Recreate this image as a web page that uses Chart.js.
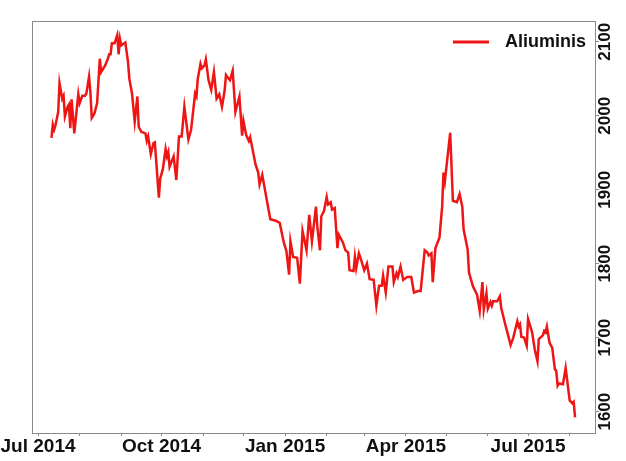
<!DOCTYPE html>
<html>
<head>
<meta charset="utf-8">
<script src="https://cdn.jsdelivr.net/npm/chart.js"></script>
<style>
  body { margin: 0; background: #fff; }
  canvas { display: block; }
</style>
</head>
<body>
<canvas id="myChart" width="626" height="461"></canvas>
<script>
var seriesName = "Aliuminis";
var startDate = "2014-07-01";

// days counted from startDate
var days = [10,11,12,13,15,16,18,19,20,22,23,24,25,27,30,31,33,35,36,38,39,40,42,44,46,47,50,52,53,54,
  55,57,59,60,61,62,65,67,68,70,72,74,75,77,80,81,82,84,86,87,90,91,93,95,96,97,98,101,103,105,
  107,109,112,114,117,118,119,121,122,124,125,127,129,131,133,135,137,139,140,142,143,145,147,150,152,153,155,157,158,162,
  164,165,167,169,173,177,180,183,185,187,188,190,193,195,197,200,202,204,207,208,210,211,213,215,216,218,219,221,223,224,
  227,229,231,232,235,236,237,239,241,243,245,247,250,252,254,256,257,259,261,263,264,265,267,268,270,272,275,278,280,283,
  285,288,290,291,293,294,296,299,301,302,303,307,309,312,314,316,317,320,321,324,327,329,331,332,334,335,337,338,339,342,
  344,345,348,350,352,354,357,358,359,360,362,364,365,368,370,372,373,376,377,378,379,381,383,385,386,387,388,391,393,396,
  398,399,400];

var prices = [1970,1988,1981,1987,2005,2044,2023,2027,1999,2012,2015,1983,2022,1976,2029,2017,2027,2027,2030,2053,
  2032,1997,2003,2017,2077,2059,2068,2077,2083,2083,2098,2098,2109,2083,2104,2095,2099,2073,2050,2030,
  1992,2026,1985,1978,1976,1966,1972,1948,1963,1964,1889,1915,1928,1955,1945,1951,1931,1945,1913,1972,
  1972,2012,1968,1981,2030,2026,2050,2070,2064,2068,2076,2048,2035,2059,2023,2029,2012,2034,2055,2050,
  2048,2061,2005,2026,1973,1993,1974,1966,1971,1934,1923,1907,1920,1900,1860,1858,1855,1829,1817,1785,
  1830,1809,1808,1773,1844,1818,1866,1830,1877,1850,1818,1864,1871,1890,1880,1883,1873,1875,1821,1839,
  1829,1818,1815,1791,1790,1809,1794,1814,1803,1791,1800,1779,1778,1743,1770,1770,1784,1761,1796,1796,
  1796,1775,1787,1782,1796,1778,1782,1782,1761,1763,1763,1818,1815,1811,1814,1775,1821,1835,1877,1923,
  1911,1977,1885,1883,1894,1877,1846,1819,1788,1769,1758,1736,1775,1738,1760,1739,1748,1743,1749,1749,
  1756,1740,1718,1704,1690,1700,1722,1715,1718,1701,1700,1689,1725,1707,1684,1668,1698,1703,1709,1707,
  1715,1693,1686,1657,1655,1635,1638,1637,1659,1615,1611,1613,1592];

var tickDates = ["2014-07-01","2014-08-01","2014-09-01","2014-10-01","2014-11-01","2014-12-01","2015-01-01",
  "2015-02-01","2015-03-01","2015-04-01","2015-05-01","2015-06-01","2015-07-01","2015-08-01"];
var tickLabels = ["Jul 2014","","","Oct 2014","","","Jan 2015","","","Apr 2015","","","Jul 2015",""];
var yTicks = [1600, 1700, 1800, 1900, 2000, 2100];

var lineColor = "#ee1515";
var axisColor = "#8a8a8a";
var textColor = "#111";
var fontFamily = "'Liberation Sans', Arial, sans-serif";

function dayOf(s) {
  return (Date.parse(s) - Date.parse(startDate)) / 86400000;
}
var tickDays = tickDates.map(dayOf);

var points = days.map(function(d, i) { return {x: d, y: prices[i]}; });

// grey box round the plot
var frame = {
  id: "frame",
  beforeDatasetsDraw: function(chart) {
    var a = chart.chartArea, ctx = chart.ctx;
    ctx.save();
    ctx.strokeStyle = axisColor;
    ctx.lineWidth = 1;
    ctx.strokeRect(a.left + 0.5, a.top + 0.5, a.right - a.left - 1, a.bottom - a.top);
    ctx.restore();
  }
};

// legend in the top right corner
var cornerLegend = {
  id: "cornerLegend",
  afterDraw: function(chart) {
    var a = chart.chartArea, ctx = chart.ctx;
    var ds = chart.data.datasets[0];
    ctx.save();
    ctx.font = "bold 18px " + fontFamily;
    var w = ctx.measureText(ds.label).width;
    var tx = a.right - 10 - w;
    var ty = a.top + 21;
    ctx.strokeStyle = ds.borderColor;
    ctx.lineWidth = 3;
    ctx.beginPath();
    ctx.moveTo(tx - 52, ty);
    ctx.lineTo(tx - 16, ty);
    ctx.stroke();
    ctx.fillStyle = textColor;
    ctx.textBaseline = "middle";
    ctx.textAlign = "left";
    ctx.fillText(ds.label, tx, ty);
    ctx.restore();
  }
};

new Chart("myChart", {
  type: "line",
  data: {
    datasets: [{
      label: seriesName,
      data: points,
      borderColor: lineColor,
      backgroundColor: lineColor,
      borderWidth: 2.5,
      pointRadius: 0,
      tension: 0,
      fill: false
    }]
  },
  options: {
    responsive: false,
    animation: false,
    layout: { padding: { left: 32, top: 21, right: 0, bottom: 0 } },
    plugins: {
      legend: { display: false },
      tooltip: { enabled: false }
    },
    scales: {
      x: {
        type: "linear",
        min: -4.5,
        max: 415.6,
        afterBuildTicks: function(scale) {
          scale.ticks = tickDays.map(function(d) { return {value: d}; });
        },
        afterFit: function(scale) {
          scale.height = 28;
          scale.paddingLeft = 0;
          scale.paddingRight = 0;
        },
        ticks: {
          autoSkip: false,
          maxRotation: 0,
          padding: -1,
          color: textColor,
          font: { family: fontFamily, size: 19, weight: "bold" },
          callback: function(value, index) { return tickLabels[index]; }
        },
        grid: { drawOnChartArea: false, tickLength: 3, color: axisColor },
        border: { display: false }
      },
      y: {
        type: "linear",
        position: "right",
        min: 1571,
        max: 2128,
        afterBuildTicks: function(scale) {
          scale.ticks = yTicks.map(function(v) { return {value: v}; });
        },
        afterFit: function(scale) {
          scale.width = 30;
        },
        ticks: {
          autoSkip: false,
          minRotation: 90,
          maxRotation: 90,
          crossAlign: "near",
          align: "start",
          labelOffset: 19,
          padding: -2,
          color: textColor,
          font: { family: fontFamily, size: 17, weight: "bold" },
          callback: function(value) { return String(value); }
        },
        grid: { drawOnChartArea: false, tickLength: 3, color: axisColor },
        border: { display: false }
      }
    }
  },
  plugins: [frame, cornerLegend]
});
</script>
</body>
</html>
